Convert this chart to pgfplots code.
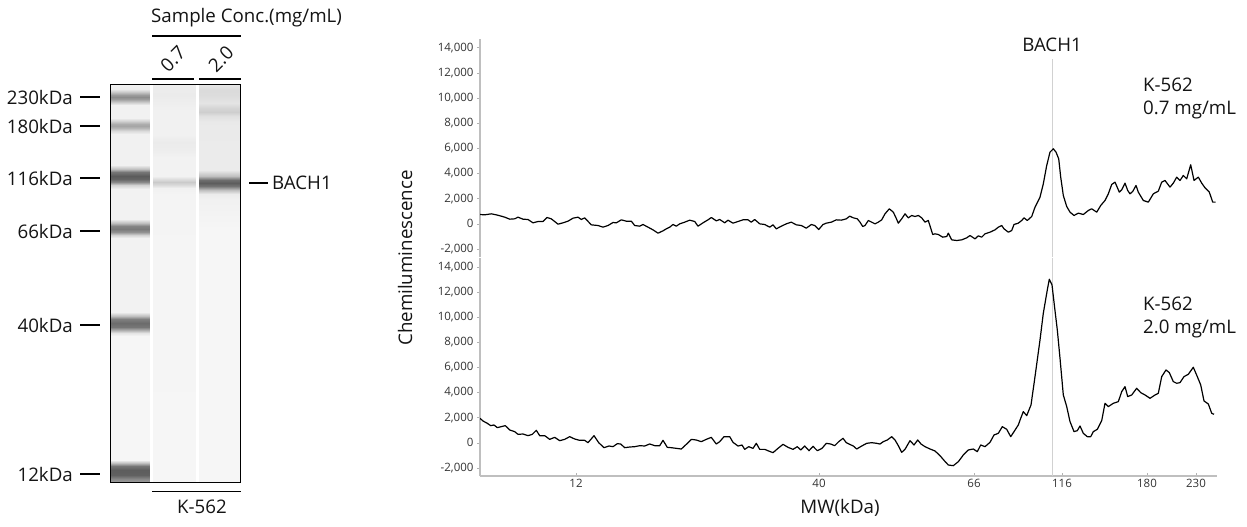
\documentclass[border=0pt]{standalone}
\usepackage{pgfplots}
\usepackage{pgfplotstable}
\pgfplotsset{compat=1.18}
\usepackage{fontspec}
\setmainfont{Open Sans}

% ---------------- data ----------------
% electropherogram traces: x = capillary position (MW scale), y = chemiluminescence
\pgfplotstableread{
x y
480 741
484.7 714
491.3 794
496.3 714
501.3 608
504.7 529
509.7 369
514.7 396
518 529
523 369
528 343
533 78
538 184
543 184
547 502
551.3 396
558 -28
563 78
568 210
573 449
578 529
581.3 343
584.7 475
591.3 -82
598 -135
603 -267
608 -135
613 104
616.3 78
621.3 316
626.3 210
631.3 210
634.7 -135
639.7 -188
643 -55
648 -267
653 -480
658 -745
663 -559
666.3 -400
669.7 -267
673 -55
676.3 -188
679.7 -2
684.7 131
689.7 290
694.7 184
698 -188
703 78
708 316
711.3 502
716.3 237
719.7 343
724.7 78
728 290
733 51
738 184
743 316
748 316
751.3 131
754.7 343
759.7 -2
764.7 -55
769.7 -267
773 -82
776.3 -400
781.3 -188
786.3 -2
791.3 131
796.3 -82
801.3 -135
806.3 -347
811.3 -55
814.7 -135
818.7 -453
823 -55
826.3 51
831.3 131
836.3 316
841.3 290
846.3 396
849.7 608
853.3 476
857.3 397
860 131
862.7 -214
865 -134
868.3 264
871.7 131
875 -1
878.3 131
881.7 317
885 795
889.3 1193
893.3 927
896 476
898.3 52
901.7 397
905 795
908.3 476
911.7 662
915 582
918.3 662
921.7 476
925 131
928.3 264
932.7 -850
935 -797
938.3 -850
942.7 -1063
946.7 -1010
948.3 -744
951.7 -1275
956.7 -1328
961.7 -1275
966.7 -1116
970 -930
975 -1195
978.3 -957
981.7 -1063
985 -797
990 -665
995 -479
998.3 -267
1001.7 -134
1004 -399
1008.3 -665
1011.7 -532
1014 -54
1018.3 52
1021.7 264
1024 476
1027.3 264
1031.7 582
1035 1325
1040 2121
1043.3 3182
1046.7 4641
1050 5703
1053.3 5968
1056 5703
1058.7 5172
1060.7 3713
1063.3 2254
1066.7 1378
1070 927
1074 662
1078.3 848
1083.3 742
1088.3 1060
1091.7 1193
1096.7 927
1100.7 1458
1105 1856
1108.3 2386
1111.7 3129
1115 3315
1119.3 2519
1121.7 2705
1125 3235
1127.7 2652
1130 2386
1132.7 2572
1136 3049
1138.3 2519
1143.3 1856
1148.3 1723
1153.3 2386
1158.3 2599
1161.7 3315
1165 3448
1170 2917
1173.3 3235
1176.7 3713
1180 3448
1183.3 3845
1186.7 3580
1190.7 4694
1194 3448
1198.3 3713
1201.7 3235
1205 2864
1209.3 2519
1212.7 1723
1215.7 1723
}\traceA
\pgfplotstableread{
x y
480 1948
483 1736
487.3 1550
490.7 1364
494 1417
497.3 1205
501.3 1285
505.3 1364
509.7 1019
514.7 887
518 674
523 701
528 568
532.3 674
536.3 993
539.7 568
544.7 568
549.7 276
554.7 436
559.7 170
564.7 276
569.7 489
574.7 303
579.7 197
584.7 197
588 11
594 568
598.7 11
604 -387
609 -254
613 -307
617.3 -69
620.7 -95
624.7 -387
629.7 -334
634.7 -307
639.7 -228
644.7 -254
649.7 -95
654.7 -228
659.7 -228
663 197
667.3 -360
671.3 -387
676.3 -440
681.3 -493
686.3 -122
691.3 276
696.3 223
701.3 91
706.3 276
711.3 436
716.3 -95
719.7 91
724 489
729.7 489
733 38
738 -254
742 -175
744.7 -520
748.7 -307
753 -440
756.3 -42
759.7 -520
764.7 -520
768.7 -652
773 -785
778 -440
783 -122
788 -360
793 -520
797.3 -307
800.7 -573
804.7 -254
809 -626
813 -281
817.3 -626
822 -440
826.3 -42
830.7 -95
834.7 -228
838.7 91
843 356
846.3 11
849.7 -122
853.3 -253
856.7 -492
861.7 -253
866.7 -41
871.7 12
876.7 -41
880 -94
883.3 92
887.3 225
891.7 490
895 225
898.3 -226
901.7 -757
905 -518
910 172
914 -173
917.7 225
921 -94
925 -306
930 -492
935 -651
940 -1022
944.3 -1420
948.3 -1765
953.3 -1818
958.3 -1500
963.3 -969
968.3 -571
973.3 -492
977.3 -704
980.7 -173
985 -306
990 39
994 623
998.3 755
1002.3 1286
1006.7 1074
1010.7 490
1014 888
1018.3 1419
1020.7 1949
1023.3 2480
1026.7 2162
1031 3010
1035 5265
1040 8184
1043.3 10306
1045.3 11235
1047.3 12163
1049.3 13012
1052 12561
1054.7 10704
1057.3 8980
1060 6725
1063.3 3806
1066.7 2878
1070 1684
1074 888
1077.3 968
1080 1339
1083.3 755
1087.3 490
1090.7 490
1093.3 888
1097.3 1074
1101.7 1763
1105 3143
1108.3 2878
1113.3 3143
1118.3 3276
1121.7 4071
1125 4469
1127.7 3674
1131.7 3806
1136.7 4337
1140.7 3992
1145 3806
1150 3541
1155 3806
1158.3 3939
1161.7 5265
1166 5796
1169.3 5584
1173.3 4868
1176.7 4735
1180 4788
1184 5265
1188.3 5451
1193.3 6008
1197.3 5265
1200.7 4602
1204 3329
1208.3 3090
1211.7 2347
1214 2268
}\traceB

% gel lane density profiles: x = lane edge, y = migration position, m = band darkness
\pgfplotstableread{
x y z m
110 84 0 0.02
149.5 84 0 0.02
110 89 0 0.05
149.5 89 0 0.05
110 92 0 0.25
149.5 92 0 0.25
110 95 0 0.5
149.5 95 0 0.5
110 97 0 0.58
149.5 97 0 0.58
110 99 0 0.5
149.5 99 0 0.5
110 102 0 0.25
149.5 102 0 0.25
110 105 0 0.03
149.5 105 0 0.03
110 118 0 0.03
149.5 118 0 0.03
110 121 0 0.2
149.5 121 0 0.2
110 124 0 0.4
149.5 124 0 0.4
110 126 0 0.44
149.5 126 0 0.44
110 128 0 0.35
149.5 128 0 0.35
110 131 0 0.15
149.5 131 0 0.15
110 134 0 0.03
149.5 134 0 0.03
110 165 0 0.03
149.5 165 0 0.03
110 169 0 0.3
149.5 169 0 0.3
110 172 0 0.7
149.5 172 0 0.7
110 176 0 0.85
149.5 176 0 0.85
110 179 0 0.8
149.5 179 0 0.8
110 182 0 0.6
149.5 182 0 0.6
110 185 0 0.2
149.5 185 0 0.2
110 189 0 0.02
149.5 189 0 0.02
110 219 0 0.02
149.5 219 0 0.02
110 223 0 0.3
149.5 223 0 0.3
110 226 0 0.62
149.5 226 0 0.62
110 229 0 0.68
149.5 229 0 0.68
110 232 0 0.55
149.5 232 0 0.55
110 235 0 0.2
149.5 235 0 0.2
110 238 0 0.02
149.5 238 0 0.02
110 312 0 0.02
149.5 312 0 0.02
110 316 0 0.3
149.5 316 0 0.3
110 319 0 0.65
149.5 319 0 0.65
110 323 0 0.76
149.5 323 0 0.76
110 327 0 0.7
149.5 327 0 0.7
110 330 0 0.4
149.5 330 0 0.4
110 333 0 0.1
149.5 333 0 0.1
110 336 0 0.0
149.5 336 0 0.0
110 460 0 0.0
149.5 460 0 0.0
110 463 0 0.3
149.5 463 0 0.3
110 466 0 0.7
149.5 466 0 0.7
110 470 0 0.84
149.5 470 0 0.84
110 475 0 0.82
149.5 475 0 0.82
110 479 0 0.6
149.5 479 0 0.6
110 482 0 0.5
149.5 482 0 0.5
}\laneLadder
\pgfplotstableread{
x y z m
153 84 0 0.05
195.5 84 0 0.05
153 95 0 0.06
195.5 95 0 0.06
153 110 0 0.03
195.5 110 0 0.03
153 135 0 0.03
195.5 135 0 0.03
153 142 0 0.06
195.5 142 0 0.06
153 150 0 0.05
195.5 150 0 0.05
153 158 0 0.02
195.5 158 0 0.02
153 176 0 0.02
195.5 176 0 0.02
153 179 0 0.13
195.5 179 0 0.13
153 182 0 0.24
195.5 182 0 0.24
153 185 0 0.15
195.5 185 0 0.15
153 188 0 0.03
195.5 188 0 0.03
153 195 0 0.01
195.5 195 0 0.01
153 482 0 0.0
195.5 482 0 0.0
}\laneA
\pgfplotstableread{
x y z m
199 84 0 0.08
240.7 84 0 0.08
199 90 0 0.15
240.7 90 0 0.15
199 96 0 0.14
240.7 96 0 0.14
199 103 0 0.1
240.7 103 0 0.1
199 108 0 0.18
240.7 108 0 0.18
199 112 0 0.22
240.7 112 0 0.22
199 116 0 0.12
240.7 116 0 0.12
199 122 0 0.07
240.7 122 0 0.07
199 150 0 0.06
240.7 150 0 0.06
199 170 0 0.06
240.7 170 0 0.06
199 176 0 0.3
240.7 176 0 0.3
199 180 0 0.75
240.7 180 0 0.75
199 183 0 0.84
240.7 183 0 0.84
199 186 0 0.72
240.7 186 0 0.72
199 190 0 0.3
240.7 190 0 0.3
199 194 0 0.06
240.7 194 0 0.06
199 200 0 0.03
240.7 200 0 0.03
199 230 0 0.0
240.7 230 0 0.0
199 482 0 0.0
240.7 482 0 0.0
}\laneB

\pgfplotsset{
  trace/.style={black, line width=1.2pt, line join=round, no markers},
  panel/.style={
    scale only axis, width=737pt, height=218pt,
    xmin=480, xmax=1217, ymin=-2640, ymax=14700,
    axis y line*=left,
    axis line style={draw=black!25, line width=1.5pt},
    ytick={-2000,0,2000,4000,6000,8000,10000,12000,14000},
    scaled y ticks=false,
    tick align=outside, major tick length=3pt,
    y tick style={draw=black!30, line width=0.6pt},
    yticklabel style={font=\fontsize{11.5}{13}\selectfont, text=black!80},
    /pgf/number format/.cd, 1000 sep={,}, assume math mode=true,
  },
}

\begin{document}
\begin{tikzpicture}[x=1pt,y=1pt,
  big/.style={font=\fontsize{18.7}{23}\selectfont, inner sep=0pt, text=black!92}]
\path[use as bounding box] (0pt,-527pt) rectangle (1247pt,0pt);

% ---------------- gel image ----------------
\begin{axis}[at={(110pt,-482pt)}, anchor=south west,
  view={0}{90}, scale only axis, width=130.7pt, height=398pt,
  xmin=110, xmax=240.7, ymin=84, ymax=482, zmin=-1, zmax=1,
  y dir=reverse, ticks=none, axis on top,
  axis line style={black, line width=1pt},
  colormap={gel}{gray(0cm)=(0.965); gray(1cm)=(0.25)},
  point meta min=0, point meta max=1]
\addplot3[surf, shader=interp, mesh/cols=2, point meta=explicit] table[x=x,y=y,z=z,meta=m]{\laneLadder};
\addplot3[surf, shader=interp, mesh/cols=2, point meta=explicit] table[x=x,y=y,z=z,meta=m]{\laneA};
\addplot3[surf, shader=interp, mesh/cols=2, point meta=explicit] table[x=x,y=y,z=z,meta=m]{\laneB};
\end{axis}

% gel annotations
\foreach \yy/\lab in {97/230kDa,126/180kDa,178/116kDa,231/66kDa,325/40kDa,474/12kDa}{
  \node[big, anchor=east] at (73pt,-\yy pt) {\lab};
  \draw[line width=1.8pt] (80pt,-\yy pt) -- (100pt,-\yy pt);
}
\draw[line width=1.8pt] (249pt,-183pt) -- (268pt,-183pt);
\node[big, anchor=west] at (272pt,-183pt) {BACH1};
\node[big, anchor=west] at (151pt,-18pt) {Sample Conc.(mg/mL)};
\draw[line width=1.8pt] (152pt,-36pt) -- (241pt,-36pt);
\node[big, rotate=45] at (173pt,-59pt) {0.7};
\node[big, rotate=45] at (221pt,-59pt) {2.0};
\draw[line width=1.8pt] (152pt,-79pt) -- (193.5pt,-79pt);
\draw[line width=1.8pt] (199pt,-79pt) -- (241pt,-79pt);
\draw[line width=1.8pt] (152pt,-491.5pt) -- (241pt,-491.5pt);
\node[big] at (202pt,-507pt) {K-562};

% ---------------- electropherograms ----------------
\begin{axis}[panel, at={(480pt,-257pt)}, anchor=south west, axis x line=none]
\addplot[black!18, line width=0.8pt] coordinates {(1052,-2640) (1052,13100)};
\addplot[trace] table[x=x,y=y] {\traceA};
\end{axis}

\begin{axis}[panel, at={(480pt,-476pt)}, anchor=south west,
  axis x line*=bottom,
  xtick={576,819,974,1062,1147,1196},
  xticklabels={12,40,66,116,180,230},
  x tick style={draw=black!30, line width=0.6pt},
  xtick align=inside,
  xticklabel style={font=\fontsize{11.5}{13}\selectfont, text=black!80}]
\addplot[black!18, line width=0.8pt] coordinates {(1052,-2640) (1052,14700)};
\addplot[trace] table[x=x,y=y] {\traceB};
\end{axis}

\node[big] at (1052pt,-45pt) {BACH1};
\node[big, anchor=west, align=left] at (1143pt,-98.5pt) {K-562\\0.7 mg/mL};
\node[big, anchor=west, align=left] at (1143pt,-317.5pt) {K-562\\2.0 mg/mL};
\node[big, rotate=90] at (405pt,-258pt) {Chemiluminescence};
\node[big] at (840pt,-508pt) {MW(kDa)};
\end{tikzpicture}
\end{document}
